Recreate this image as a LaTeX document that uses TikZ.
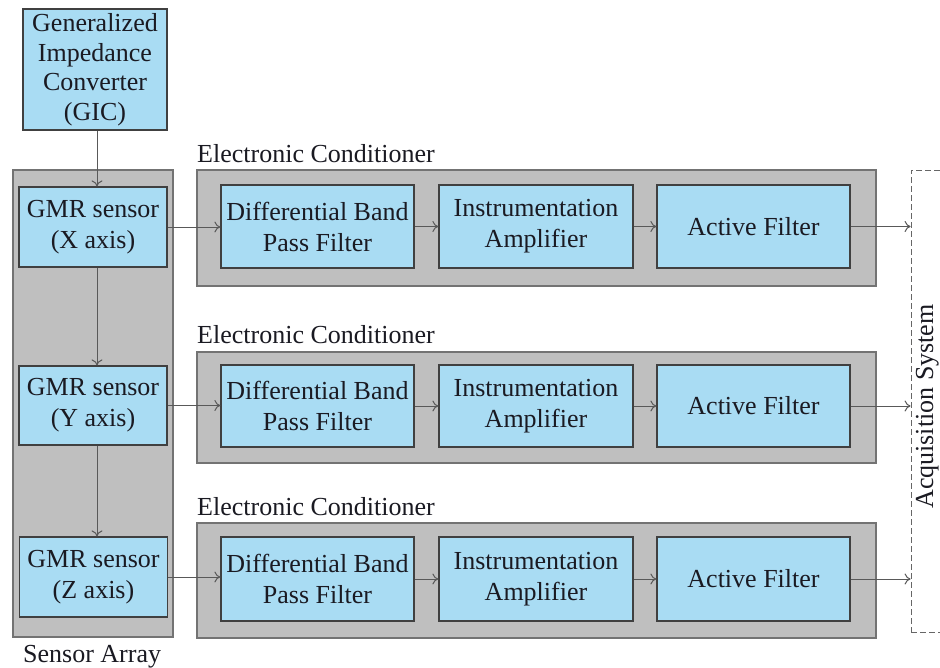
\documentclass[tikz,border=0pt]{standalone}
\usepackage{fontspec}
\setmainfont{Liberation Serif}
\usetikzlibrary{arrows.meta}
\definecolor{blk}{HTML}{A9DCF3}
\definecolor{grp}{HTML}{BFBFBF}
\definecolor{txt}{HTML}{1A1A22}
\tikzset{
  blockbox/.style={draw=black!75, line width=1.2pt, fill=blk, text=txt, align=center,
    inner sep=0pt, font=\fontsize{26}{31}\selectfont},
  groupbox/.style={draw=black!55, line width=1.2pt, fill=grp, inner sep=0pt},
  flow/.style={draw=black!65, line width=1pt, -{To[length=6pt,width=11pt]}},
  lbl/.style={text=txt, inner sep=0pt, font=\fontsize{26}{31}\selectfont},
  acqbox/.style={draw=black!60, line width=0.8pt, dash pattern=on 6pt off 3pt, inner sep=0pt}
}
\begin{document}
\begin{tikzpicture}[x=1pt,y=-1pt]
\useasboundingbox (0,0) rectangle (940,667);
\fill[white] (0,0) rectangle (940,667);
% containers
\node[groupbox, minimum width=160, minimum height=467] (sa) at (93,403.5) {};
\node[groupbox, minimum width=679, minimum height=116] (ec1) at (536.5,228) {};
\node[groupbox, minimum width=679, minimum height=111] (ec2) at (536.5,407.5) {};
\node[groupbox, minimum width=679, minimum height=115] (ec3) at (536.5,580.5) {};
\node[acqbox, minimum width=49, minimum height=462] (acq) at (935.5,401) {};
% labels
\node[lbl, anchor=base west] (l1) at (197,162) {Electronic Conditioner};
\node[lbl, anchor=base west] (l2) at (197,343) {Electronic Conditioner};
\node[lbl, anchor=base west] (l3) at (197,515) {Electronic Conditioner};
\node[lbl, anchor=base west] (lsa) at (23,662) {Sensor Array};
\node[lbl, anchor=base, rotate=90] (lacq) at (933,406.5) {Acquisition System};
% GIC
\node[blockbox, minimum width=144, minimum height=121, font=\fontsize{26}{29.5}\selectfont] (gic) at (95,69.5)
  {Generalized\\Impedance\\Converter\\(GIC)};
% sensors
\node[blockbox, minimum width=148, minimum height=80] (gx) at (93,227) {GMR sensor\\(X axis)};
\node[blockbox, minimum width=148, minimum height=79] (gy) at (93,405.5) {GMR sensor\\(Y axis)};
\node[blockbox, minimum width=148, minimum height=80] (gz) at (93.5,577) {GMR sensor\\(Z axis)};
% row 1
\node[blockbox, minimum width=193, minimum height=83] (d1) at (317.5,226.5) {Differential Band\\Pass Filter};
\node[blockbox, minimum width=194, minimum height=83] (i1) at (536,226.5) {Instrumentation\\Amplifier};
\node[blockbox, minimum width=193, minimum height=83] (a1) at (753.5,226.5) {Active Filter};
% row 2
\node[blockbox, minimum width=193, minimum height=82] (d2) at (317.5,406) {Differential Band\\Pass Filter};
\node[blockbox, minimum width=194, minimum height=82] (i2) at (536,406) {Instrumentation\\Amplifier};
\node[blockbox, minimum width=193, minimum height=82] (a2) at (753.5,406) {Active Filter};
% row 3
\node[blockbox, minimum width=193, minimum height=84] (d3) at (317.5,579) {Differential Band\\Pass Filter};
\node[blockbox, minimum width=194, minimum height=84] (i3) at (536,579) {Instrumentation\\Amplifier};
\node[blockbox, minimum width=193, minimum height=84] (a3) at (753.5,579) {Active Filter};
% connectors
\draw[flow] (gic.south -| 97,0) -- (gx.north -| 97,0);
\draw[flow] (gx.south -| 97,0) -- (gy.north -| 97,0);
\draw[flow] (gy.south -| 97,0) -- (gz.north -| 97,0);
\draw[flow] (gx.east) -- (gx.east -| d1.west);
\draw[flow] (gy.east) -- (gy.east -| d2.west);
\draw[flow] (gz.east) -- (gz.east -| d3.west);
\foreach \r in {1,2,3}{
  \draw[flow] (d\r.east) -- (i\r.west);
  \draw[flow] (i\r.east) -- (a\r.west);
  \draw[flow] (a\r.east) -- (a\r.east -| acq.west);
}
\end{tikzpicture}
\end{document}
